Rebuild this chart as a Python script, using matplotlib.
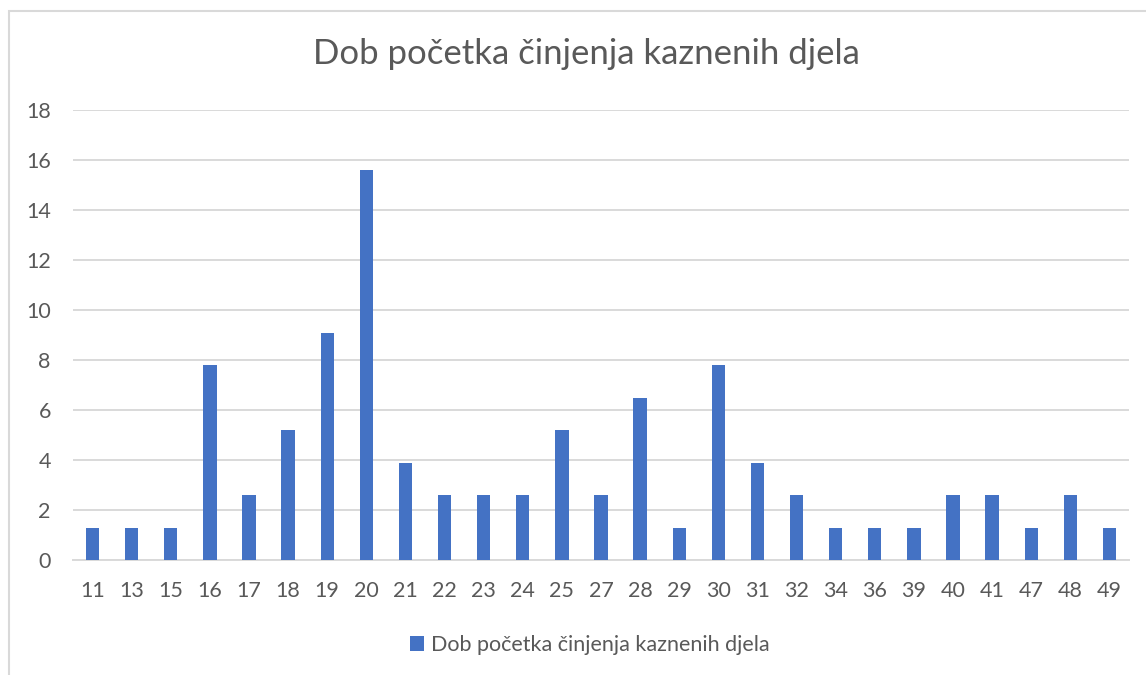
import numpy as np
import matplotlib.pyplot as plt
from matplotlib.patches import Rectangle

ages = ['11', '13', '15', '16', '17', '18', '19', '20', '21', '22', '23', '24', '25', '27',
        '28', '29', '30', '31', '32', '34', '36', '39', '40', '41', '47', '48', '49']
values = [1.3, 1.3, 1.3, 7.8, 2.6, 5.2, 9.1, 15.6, 3.9, 2.6, 2.6, 2.6, 5.2, 2.6,
          6.5, 1.3, 7.8, 3.9, 2.6, 1.3, 1.3, 1.3, 2.6, 2.6, 1.3, 2.6, 1.3]
series_name = 'Dob početka činjenja kaznenih djela'
title = 'Dob početka činjenja kaznenih djela'

plt.rcParams['font.family'] = ['Lato', 'DejaVu Sans']
text_col = '#595959'
bar_col = '#4472C4'
grid_col = '#d9d9d9'

fig = plt.figure(figsize=(11.46, 6.75), dpi=100)
W, H = 1146, 675
ax = fig.add_axes([73 / W, 1 - 560 / H, (1129 - 73) / W, (560 - 110) / H])

x = np.arange(len(ages))
ax.bar(x, values, width=0.34, color=bar_col, label=series_name, zorder=3)

ax.set_xlim(-0.5, len(ages) - 0.5)
ax.set_ylim(0, 18)
ax.set_yticks(np.arange(0, 19, 2))
ax.set_xticks(x)
ax.set_xticklabels(ages)
ax.tick_params(axis='both', length=0, labelsize=15.5, colors=text_col)
ax.tick_params(axis='x', pad=15)
ax.tick_params(axis='y', pad=16)
ax.grid(axis='y', color=grid_col, linewidth=1.4, zorder=0)
for s in ['top', 'right', 'left']:
    ax.spines[s].set_visible(False)
ax.spines['bottom'].set_color(grid_col)
ax.spines['bottom'].set_linewidth(1.4)

fig.text(586 / W, 1 - 54 / H, title, ha='center', va='center', fontsize=25, color=text_col)

leg = fig.legend(loc='center', bbox_to_anchor=(590 / W, 1 - 645 / H), frameon=False,
                 fontsize=15.5, handlelength=0.65, handleheight=0.65, handletextpad=0.3)
for t in leg.get_texts():
    t.set_color(text_col)

# outer chart border
fig.patches.append(Rectangle((8.5 / W, -0.05), 1.2, 1.05 - 11 / H, transform=fig.transFigure,
                             fill=False, edgecolor='#d9d9d9', linewidth=1.5))

plt.savefig('out.png', dpi=100)
